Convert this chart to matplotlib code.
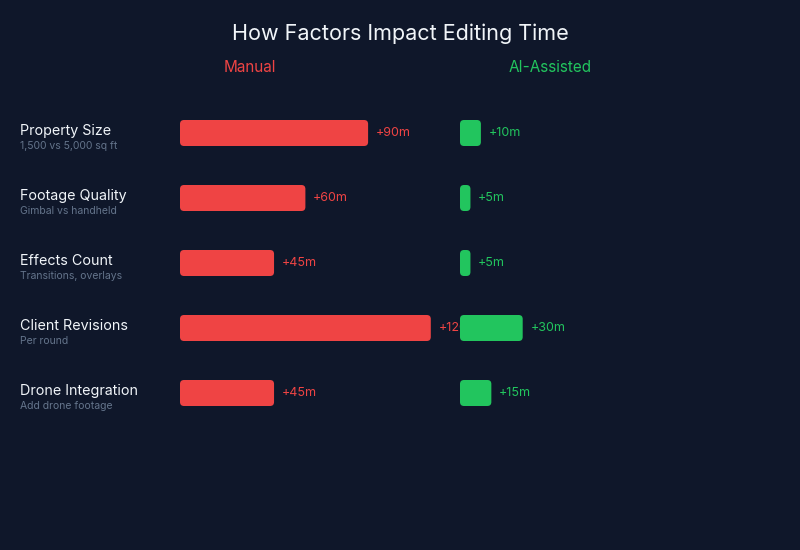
import matplotlib.pyplot as plt
from matplotlib.patches import FancyBboxPatch

# Data
factors = ["Property Size", "Footage Quality", "Effects Count", "Client Revisions", "Drone Integration"]
notes = ["1,500 vs 5,000 sq ft", "Gimbal vs handheld", "Transitions, overlays", "Per round", "Add drone footage"]
manual_min = [90, 60, 45, 120, 45]
ai_min = [10, 5, 5, 30, 15]

BG = "#0f172a"
RED = "#ef4444"
GREEN = "#22c55e"
plt.rcParams['font.family'] = ['Inter', 'DejaVu Sans']

W, H = 800, 550
PX_PER_MIN = 2.09
ROW_PX = 65
fig = plt.figure(figsize=(8, 5.5), dpi=100, facecolor=BG)

def make_axes(left_px, width_min):
    top_px = 133 - ROW_PX / 2
    height_px = ROW_PX * len(factors)
    ax = fig.add_axes([left_px / W, 1 - (top_px + height_px) / H,
                       width_min * PX_PER_MIN / W, height_px / H])
    ax.set_xlim(0, width_min)
    ax.set_ylim(len(factors) - 0.5, -0.5)
    ax.axis('off')
    ax.patch.set_alpha(0)
    return ax

def rounded_bars(ax, values, color, zorder):
    radius_px = 4
    aspect = PX_PER_MIN / ROW_PX
    h = 26 / ROW_PX
    for i, v in enumerate(values):
        r = min(radius_px, v * PX_PER_MIN / 2) / PX_PER_MIN
        p = FancyBboxPatch((0, i - h / 2), v, h,
                           boxstyle=f"round,pad=0,rounding_size={r}",
                           mutation_aspect=aspect, fc=color, ec='none',
                           zorder=zorder, clip_on=False)
        ax.add_patch(p)
        ax.annotate(f"+{v}m", (v, i), xytext=(5.5, 0), textcoords='offset points',
                    va='center', ha='left', fontsize=9, color=color,
                    zorder=zorder, annotation_clip=False)

ax_m = make_axes(180, 130)
ax_a = make_axes(460, 130)
ax_a.set_zorder(ax_m.get_zorder() + 1)
rounded_bars(ax_m, manual_min, RED, 2)
rounded_bars(ax_a, ai_min, GREEN, 3)

# Row labels
for i, (f, n) in enumerate(zip(factors, notes)):
    y = 132 + i * ROW_PX
    fig.text(20 / W, 1 - (y - 1) / H, f, fontsize=10.3, color="#f1f5f9",
             ha='left', va='center')
    fig.text(20 / W, 1 - (y + 14) / H, n, fontsize=7.5, color="#64748b",
             ha='left', va='center')

fig.text(0.5, 1 - 34 / H, "How Factors Impact Editing Time", fontsize=15.5,
         color="#f1f5f9", ha='center', va='center')
fig.text(250 / W, 1 - 67 / H, "Manual", fontsize=11, color=RED, ha='center', va='center')
fig.text(550 / W, 1 - 67 / H, "AI-Assisted", fontsize=11, color=GREEN, ha='center', va='center')

plt.savefig('out.png', facecolor=BG)
